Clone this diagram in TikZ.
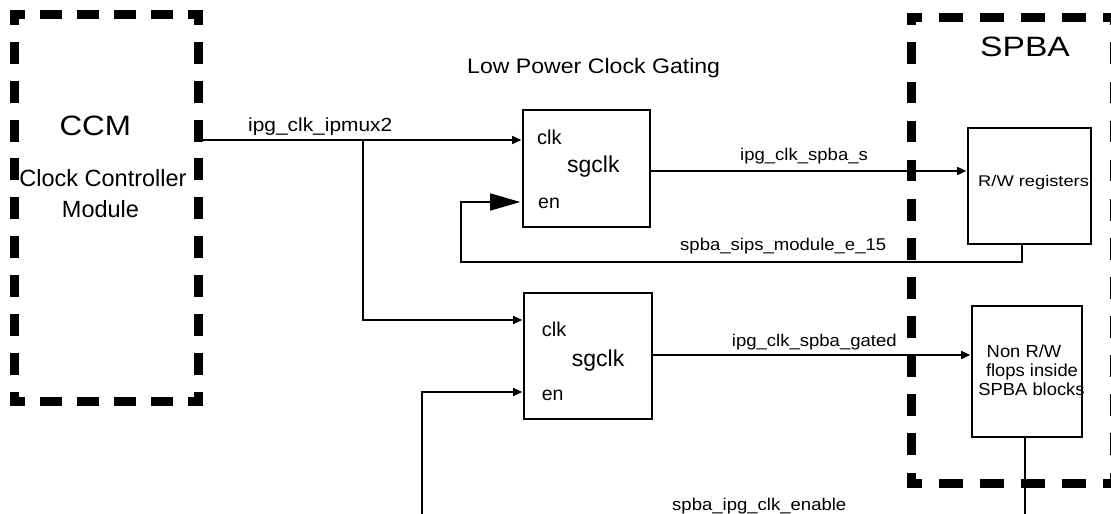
\documentclass[tikz,border=0pt]{standalone}
\usepackage{fontspec}
\setmainfont{Liberation Sans}
\usetikzlibrary{arrows.meta}
\newcommand{\tx}[3]{\fontsize{#1pt}{#1pt}\selectfont\scalebox{#2}[1]{#3}}
\begin{document}
\begin{tikzpicture}[x=1pt,y=-1pt,
  box/.style={draw, line width=1.6pt, inner sep=0pt},
  hidden/.style={draw=none, inner sep=0pt},
  wire/.style={line width=1.6pt},
  sig/.style={line width=1.6pt, shorten >=1pt, -{Triangle[length=9pt,width=8pt]}},
  bigsig/.style={line width=1.6pt, shorten >=2pt, -{Triangle[length=30pt,width=17pt]}},
  lbl/.style={anchor=base, inner sep=0pt},
  lblw/.style={anchor=base west, inner sep=0pt},
  ccmh/.style={line width=9pt, dash pattern=on 22pt off 15pt, dash phase=7pt},
  ccmv/.style={line width=9pt, dash pattern=on 22pt off 16.86pt, dash phase=7pt},
  spbah/.style={line width=9pt, dash pattern=on 24pt off 17pt, dash phase=9pt},
  spbav/.style={line width=9pt, dash pattern=on 21.7pt off 17.4pt, dash phase=9.7pt}
]
\useasboundingbox (0,0) rectangle (1111,514);
\clip (0,0) rectangle (1111,514);

% blocks (dashed borders drawn separately)
\node[hidden, minimum width=184pt, minimum height=387pt] (ccm) at (106.5,208) {};
\node[hidden, minimum width=203pt, minimum height=465.5pt] (spba) at (1013,250.25) {};

\draw[ccmh] (10,14.5) -- (203,14.5);
\draw[ccmh] (10,401.5) -- (203,401.5);
\draw[ccmv] (14.5,10) -- (14.5,406);
\draw[ccmv] (198.5,10) -- (198.5,406);

\draw[spbah] (907,17.5) -- (1119.5,17.5);
\draw[spbah] (907,483) -- (1119.5,483);
\draw[spbav] (911.5,13) -- (911.5,487.5);
\draw[spbav] (1114.5,13) -- (1114.5,487.5);

% boxes
\node[box, minimum width=127pt, minimum height=117pt] (g1) at (586.5,168.5) {};
\node[box, minimum width=128pt, minimum height=126pt] (g2) at (588,356) {};
\node[box, minimum width=123pt, minimum height=116pt] (rw) at (1029.5,186) {};
\node[box, minimum width=110pt, minimum height=131pt] (nrw) at (1027,371.5) {};

% pins
\coordinate (g1clk) at ([yshift=28.5pt]g1.west);
\coordinate (g1en) at ([yshift=-33.5pt]g1.west);
\coordinate (g1out) at ([yshift=-2.5pt]g1.east);
\coordinate (g2clk) at ([yshift=36pt]g2.west);
\coordinate (g2en) at ([yshift=-36pt]g2.west);
\coordinate (g2out) at ([yshift=1pt]g2.east);
\coordinate (br) at (363,140);
\coordinate (fb) at (461,262);
\coordinate (en2src) at (422,520);
\coordinate (nrwdst) at (1025,520);

% connectors
\draw[sig] (ccm.east |- g1clk) -- (g1clk);
\draw[sig] (br) |- (g2clk);
\draw[sig] (g1out) -- (rw.west |- g1out);
\draw[bigsig] ([xshift=-7.5pt]rw.south) |- (fb) |- (g1en);
\draw[sig] (g2out) -- (nrw.west |- g2out);
\draw[sig] (en2src) |- (g2en);
\draw[wire] ([xshift=-2pt]nrw.south) -- (nrwdst);

% texts
\node[lblw] (title) at (467,73.3) {\tx{21}{1.1}{Low Power Clock Gating}};
\node[lbl] (ccmname) at (95.3,135) {\tx{28}{1.12}{CCM}};
\node[lbl] (ccmd1) at (103,186.7) {\tx{23.5}{1}{Clock Controller}};
\node[lbl] (ccmd2) at (100.5,217.3) {\tx{23.5}{1}{Module}};
\node[lbl] (spbaname) at (1025,56.7) {\tx{28}{1.2}{SPBA}};

\node[lblw] (lipmux) at (248,131) {\tx{19}{1.1}{ipg\_clk\_ipmux2}};
\node[lblw] (lspbas) at (740,160.7) {\tx{17}{1.09}{ipg\_clk\_spba\_s}};
\node[lblw] (lsips) at (680,250) {\tx{17}{1.09}{spba\_sips\_module\_e\_15}};
\node[lblw] (lgated) at (731.7,346) {\tx{17}{1.09}{ipg\_clk\_spba\_gated}};
\node[lblw] (lenable) at (672,510.5) {\tx{17}{1.09}{spba\_ipg\_clk\_enable}};

\node[lblw] (g1c) at (537,144) {\tx{20}{1}{clk}};
\node[lblw] (g1s) at (567,172.5) {\tx{23}{1}{sgclk}};
\node[lblw] (g1e) at (538,208) {\tx{19.5}{1}{en}};
\node[lblw] (g2c) at (541.7,336) {\tx{20}{1}{clk}};
\node[lblw] (g2s) at (571.7,366.7) {\tx{23}{1}{sgclk}};
\node[lblw] (g2e) at (541.7,400) {\tx{19.5}{1}{en}};

\node[lblw] (rwt) at (978,186.7) {\tx{15.5}{1.18}{R/W registers}};
\node[lbl] (nrw1) at (1024,357) {\tx{17.5}{1.05}{Non R/W}};
\node[lbl] (nrw2) at (1032,376.7) {\tx{17.5}{1.05}{flops inside}};
\node[lbl] (nrw3) at (1031.5,395) {\tx{17.5}{1.05}{SPBA blocks}};
\end{tikzpicture}
\end{document}
